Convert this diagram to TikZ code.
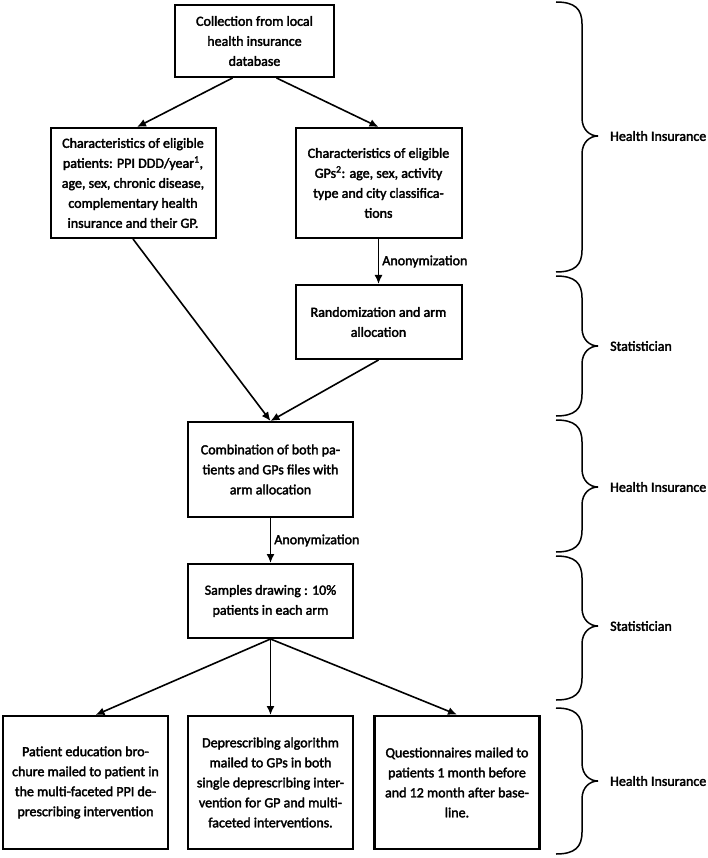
\documentclass[tikz,border=0pt]{standalone}
\usepackage{fontspec}
\setmainfont{Carlito}
\newfontfamily\boxfont{Carlito}[FakeBold=2.4]
\usetikzlibrary{arrows.meta,calc}
\begin{document}
\begin{tikzpicture}[x=1pt,y=-1pt,
  box/.style={draw, line width=2pt, align=center, inner sep=0pt, font=\boxfont\fontsize{14}{20}\selectfont},
  arr/.style={line width=1.6pt, -{Latex[length=9pt,width=8pt]}},
  lab/.style={font=\boxfont\fontsize{14}{17}\selectfont, inner sep=0pt, anchor=west},
  brc/.style={line width=1.5pt}]
\useasboundingbox (0,0) rectangle (708,858);
\node[box, minimum width=159pt, minimum height=72pt] (c1) at (254.5,41)
  {Collection from local\\health insurance\\database};
\node[box, minimum width=165pt, minimum height=110pt] (c2) at (133,183)
  {Characteristics of eligible\\patients: PPI DDD/year\textsuperscript{1},\\age, sex, chronic disease,\\complementary health\\insurance and their GP.};
\node[box, minimum width=166pt, minimum height=110pt] (c3) at (378.5,183)
  {Characteristics of eligible\\GPs\textsuperscript{2}: age, sex, activity\\type and city classifica-\\tions};
\node[box, minimum width=166pt, minimum height=74pt] (c4) at (378.5,322)
  {Randomization and arm\\allocation};
\node[box, minimum width=165pt, minimum height=95pt] (c5) at (270.5,469.5)
  {Combination of both pa-\\tients and GPs files with\\arm allocation};
\node[box, minimum width=165pt, minimum height=74pt] (c6) at (270.5,601)
  {Samples drawing : 10\%\\patients in each arm};
\node[box, minimum width=165pt, minimum height=133pt] (c7) at (85.5,782.5)
  {Patient education bro-\\chure mailed to patient in\\the multi-faceted PPI de-\\prescribing intervention};
\node[box, minimum width=165pt, minimum height=133pt] (c8) at (270.5,782.5)
  {Deprescribing algorithm\\mailed to GPs in both\\single deprescribing inter-\\vention for GP and multi-\\faceted interventions.};
\node[box, line width=2.8pt, minimum width=165pt, minimum height=133pt] (c9) at (457,782.5)
  {Questionnaires mailed to\\patients 1 month before\\and 12 month after base-\\line.};

\draw[arr] ($(c1.south)+(-22,0)$) -- ($(c2.north)+(4,0)$);
\draw[arr] ($(c1.south)+(22,0)$) -- (c3.north);
\draw[arr] (c3.south) -- node[lab, right=3pt] (an1) {Anonymization} (c4.north);
\draw[arr] (c2.south) -- (c5.north);
\draw[arr] (c4.south) -- (c5.north);
\draw[arr] (c5.south) -- node[lab, right=3pt] (an2) {Anonymization} (c6.north);
\draw[arr] (c6.south) -- ($(c7.north)+(10,0)$);
\draw[arr] (c6.south) -- (c8.north);
\draw[arr] (c6.south) -- (c9.north);

\foreach \t/\b/\m/\txt/\nm in {2/272/136/Health Insurance/b1, 276/416/346/Statistician/b2, 420/552/487/Health Insurance/b3, 556/700/626/Statistician/b4, 708/854/781/Health Insurance/b5}{
  \draw[brc] (556,\t) .. controls (575,\t) and (582,\t+7) .. (582,\t+22)
    -- (582,\m-18) .. controls (582,\m-6) and (590,\m) .. (598,\m)
    .. controls (590,\m) and (582,\m+6) .. (582,\m+18)
    -- (582,\b-22) .. controls (582,\b-7) and (575,\b) .. (556,\b);
  \node[lab] (\nm) at (610,\m) {\txt};
}
\end{tikzpicture}
\end{document}
